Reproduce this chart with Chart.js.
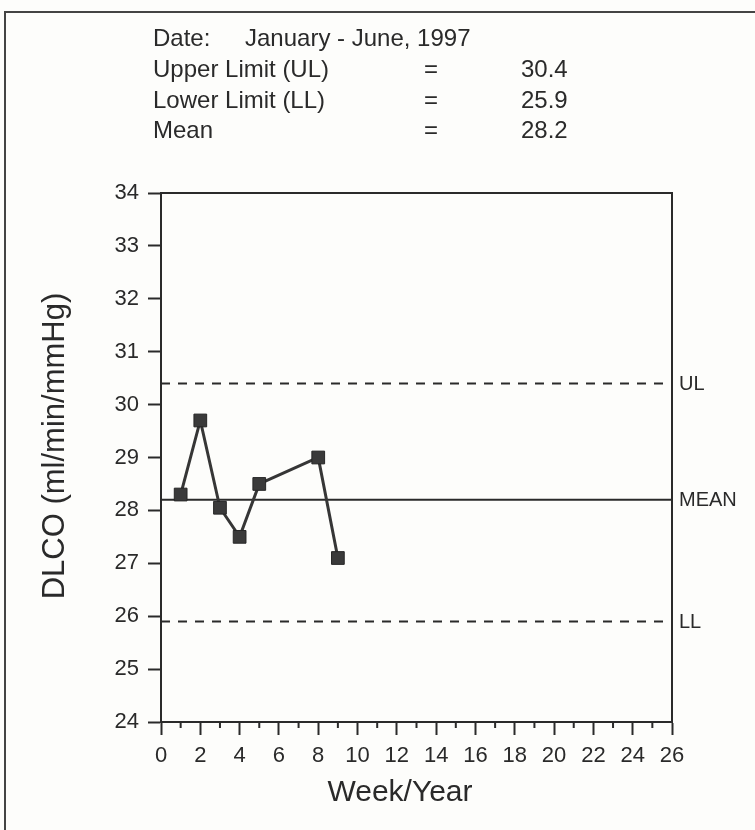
<!DOCTYPE html>
<html>
<head>
<meta charset="utf-8">
<script src="https://cdn.jsdelivr.net/npm/chart.js@4.4.1/dist/chart.umd.min.js"></script>
<style>
  html, body { margin: 0; padding: 0; background: #fdfdfb; }
  #wrap { width: 755px; height: 830px; }
</style>
</head>
<body>
<div id="wrap"><canvas id="dlcoChart" width="755" height="830"></canvas></div>
<script>
// Weekly DLCO readings
const weeks = [1, 2, 3, 4, 5, 8, 9];
const dlco = [28.3, 29.7, 28.05, 27.5, 28.5, 29.0, 27.1];

// Control limits
const upperLimit = 30.4;
const lowerLimit = 25.9;
const meanValue = 28.2;

// Header text
const dateLabel = 'Date:';
const dateRange = 'January - June, 1997';
const limitNames = ['Upper Limit (UL)', 'Lower Limit (LL)', 'Mean'];
const limitValues = [upperLimit, lowerLimit, meanValue];

// Labels at the right of the reference lines
const refNames = ['UL', 'MEAN', 'LL'];
const refValues = [upperLimit, meanValue, lowerLimit];

const ink = '#2a2a2a';
const family = '"Liberation Sans", Arial, Helvetica, sans-serif';

const flatLine = (v) => [{ x: 0, y: v }, { x: 26, y: v }];

const decorations = {
    id: 'decorations',
    beforeDraw(chart) {
        const ctx = chart.ctx;
        ctx.save();
        ctx.fillStyle = '#fdfdfb';
        ctx.fillRect(0, 0, chart.width, chart.height);
        // page frame
        ctx.strokeStyle = '#444';
        ctx.lineWidth = 2;
        ctx.beginPath();
        ctx.moveTo(5, chart.height);
        ctx.lineTo(5, 12);
        ctx.lineTo(chart.width, 12);
        ctx.stroke();
        ctx.restore();
    },
    afterDraw(chart) {
        const ctx = chart.ctx;
        const area = chart.chartArea;
        const xs = chart.scales.x;
        const ys = chart.scales.y;
        ctx.save();
        ctx.strokeStyle = ink;
        ctx.lineWidth = 2;

        // top and right sides of the plot box
        ctx.beginPath();
        ctx.moveTo(area.left, area.top);
        ctx.lineTo(area.right, area.top);
        ctx.lineTo(area.right, area.bottom);
        ctx.stroke();

        // minor ticks on the odd weeks
        ctx.beginPath();
        for (let v = 1; v < 26; v += 2) {
            const px = xs.getPixelForValue(v);
            ctx.moveTo(px, area.bottom);
            ctx.lineTo(px, area.bottom + 6);
        }
        ctx.stroke();

        ctx.fillStyle = ink;
        ctx.textBaseline = 'alphabetic';

        // header block
        ctx.font = '24px ' + family;
        ctx.textAlign = 'left';
        ctx.fillText(dateLabel, 153, 46);
        ctx.fillText(dateRange, 245, 46);
        limitNames.forEach((name, i) => {
            const y = 77 + i * 30.7;
            ctx.textAlign = 'left';
            ctx.fillText(name, 153, y);
            ctx.textAlign = 'center';
            ctx.fillText('=', 431, y);
            ctx.textAlign = 'left';
            ctx.fillText(limitValues[i].toFixed(1), 521, y);
        });

        // labels for the reference lines
        ctx.font = '20px ' + family;
        ctx.textAlign = 'left';
        ctx.textBaseline = 'middle';
        refNames.forEach((name, i) => {
            ctx.fillText(name, area.right + 7, ys.getPixelForValue(refValues[i]) + 1);
        });

        // axis titles
        ctx.font = '30px ' + family;
        ctx.textAlign = 'center';
        ctx.fillText('Week/Year', 400, 793);

        ctx.translate(55, 446);
        ctx.rotate(-Math.PI / 2);
        ctx.font = '31px ' + family;
        ctx.fillText('DLCO (ml/min/mmHg)', 0, 0);
        ctx.restore();
    }
};

new Chart(document.getElementById('dlcoChart'), {
    type: 'line',
    data: {
        datasets: [
            {
                label: 'DLCO',
                data: weeks.map((w, i) => ({ x: w, y: dlco[i] })),
                borderColor: '#363636',
                borderWidth: 3,
                backgroundColor: '#363636',
                pointStyle: 'rect',
                pointRadius: 9,
                pointBorderWidth: 1,
                pointBackgroundColor: '#3a3a3a',
                pointBorderColor: '#262626',
                tension: 0
            },
            {
                label: 'UL',
                data: flatLine(upperLimit),
                borderColor: ink,
                borderWidth: 2,
                borderDash: [9, 8],
                pointRadius: 0
            },
            {
                label: 'Mean',
                data: flatLine(meanValue),
                borderColor: ink,
                borderWidth: 2,
                pointRadius: 0
            },
            {
                label: 'LL',
                data: flatLine(lowerLimit),
                borderColor: ink,
                borderWidth: 2,
                borderDash: [9, 8],
                pointRadius: 0
            }
        ]
    },
    options: {
        responsive: false,
        animation: false,
        devicePixelRatio: 1,
        layout: { padding: { top: 193, right: 83, left: 0, bottom: 0 } },
        plugins: {
            legend: { display: false },
            tooltip: { enabled: false }
        },
        scales: {
            x: {
                type: 'linear',
                min: 0,
                max: 26,
                ticks: {
                    stepSize: 2,
                    autoSkip: false,
                    maxRotation: 0,
                    color: ink,
                    padding: 8,
                    font: { family: family, size: 22 }
                },
                grid: {
                    drawOnChartArea: false,
                    tickLength: 13,
                    tickWidth: 2,
                    tickColor: ink
                },
                border: { color: ink, width: 2 },
                afterFit: (scale) => { scale.height = 108; }
            },
            y: {
                min: 24,
                max: 34,
                ticks: {
                    stepSize: 1,
                    color: ink,
                    padding: 9,
                    font: { family: family, size: 22 }
                },
                grid: {
                    drawOnChartArea: false,
                    tickLength: 13,
                    tickWidth: 2,
                    tickColor: ink
                },
                border: { color: ink, width: 2 },
                afterFit: (scale) => { scale.width = 161; }
            }
        }
    },
    plugins: [decorations]
});
</script>
</body>
</html>
